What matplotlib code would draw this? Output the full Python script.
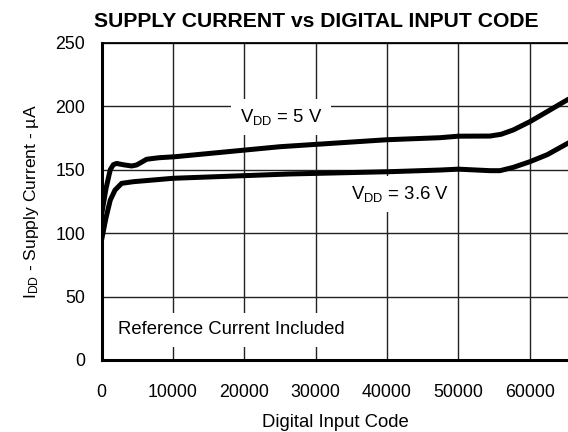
import matplotlib
matplotlib.use("Agg")
import matplotlib.pyplot as plt

# Supply current (uA) vs digital input code
code_5v = [0, 600, 1200, 1630, 2100, 3000, 4200, 4900, 5600, 6300, 8000,
           10280, 25000, 40000, 47430, 50000, 54440, 56000, 57700, 60050,
           62500, 65535]
idd_5v = [115, 135, 150, 154, 155, 154, 153, 153.8, 156, 158.3, 159.5,
          160.3, 168.2, 173.7, 175.3, 176.5, 176.6, 178, 181.4, 188,
          196, 206]

code_36v = [0, 600, 1200, 1870, 2800, 4430, 10040, 26400, 40400, 47430,
            50000, 54440, 55840, 57700, 60050, 62500, 65535]
idd_36v = [95, 112, 126, 134, 139.3, 140.6, 143.3, 146.7, 148.5, 149.8,
           150.5, 149.3, 149.3, 151.9, 156.4, 162, 171.5]

x_ticks = [0, 10000, 20000, 30000, 40000, 50000, 60000]
y_ticks = [0, 50, 100, 150, 200, 250]

plt.rcParams["font.family"] = ["Liberation Sans", "DejaVu Sans"]
plt.rcParams["mathtext.default"] = "regular"

fig = plt.figure(figsize=(5.68, 4.32), dpi=100)
ax = fig.add_axes([0.179, 0.1667, 0.823, 0.7338])

ax.plot(code_5v, idd_5v, color="black", lw=3.6, solid_joinstyle="round",
        solid_capstyle="butt", zorder=4)
ax.plot(code_36v, idd_36v, color="black", lw=3.6, solid_joinstyle="round",
        solid_capstyle="butt", zorder=4)

ax.set_xlim(0, 65535)
ax.set_ylim(0, 250)
ax.set_xticks(x_ticks)
ax.set_yticks(y_ticks)
ax.tick_params(axis="both", length=0, labelsize=12.8, colors="black")
ax.tick_params(axis="x", pad=17)
ax.tick_params(axis="y", pad=12)
ax.grid(True, color="#222222", lw=1.0)
ax.set_axisbelow(True)

for side in ["left", "bottom"]:
    ax.spines[side].set_linewidth(2.2)
ax.spines["top"].set_linewidth(1.3)
ax.spines["right"].set_visible(False)

box = dict(boxstyle="square,pad=0.45", facecolor="white", edgecolor="none")
ax.text(25140, 191.6, "V$_{DD}$ = 5 V", fontsize=13.3, ha="center",
        va="center", bbox=box, zorder=3)
ax.text(41820, 130.9, "V$_{DD}$ = 3.6 V", fontsize=13.3, ha="center",
        va="center", bbox=box, zorder=3)
ax.text(18130, 23.7, "Reference Current Included", fontsize=13.3,
        ha="center", va="center", bbox=box, zorder=3)

ax.set_xlabel("Digital Input Code", fontsize=13.3, labelpad=10)
ax.set_ylabel("I$_{DD}$ - Supply Current - µA", fontsize=12.6, labelpad=10)

fig.text(0.557, 0.950, "SUPPLY CURRENT vs DIGITAL INPUT CODE",
         fontsize=15.2, fontweight="bold", ha="center", va="center")

fig.savefig("out.png", dpi=100)
